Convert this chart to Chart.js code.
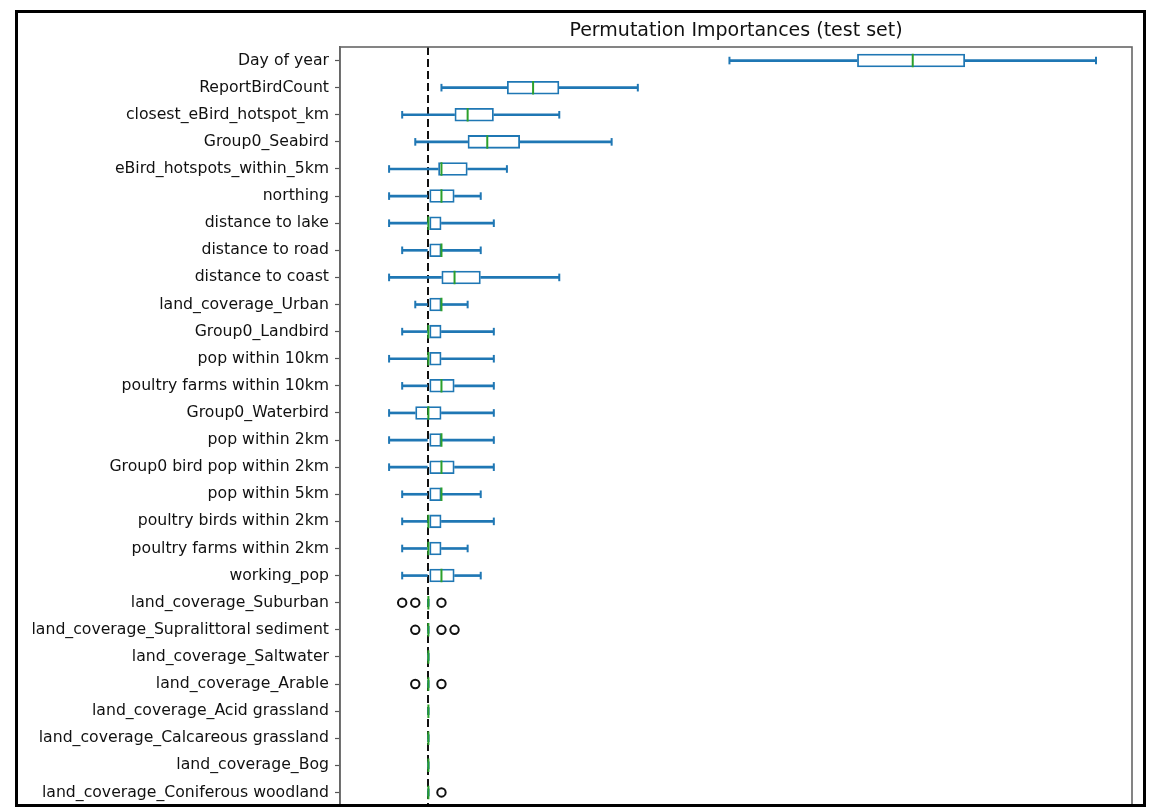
<!DOCTYPE html>
<html>
<head>
<meta charset="utf-8">
<script src="https://cdn.jsdelivr.net/npm/chart.js@4.4.1/dist/chart.umd.min.js"></script>
<style>
  html, body { margin: 0; padding: 0; background: #fff; overflow: hidden; }
  #wrap { position: relative; width: 1152px; height: 807px; }
</style>
</head>
<body>
<div id="wrap"><canvas id="c"></canvas></div>
<script>
// ---- data (permutation importance, arbitrary units; 0 = no effect) ----
const features = [
  "Day of year", "ReportBirdCount", "closest_eBird_hotspot_km", "Group0_Seabird",
  "eBird_hotspots_within_5km", "northing", "distance to lake", "distance to road",
  "distance to coast", "land_coverage_Urban", "Group0_Landbird", "pop within 10km",
  "poultry farms within 10km", "Group0_Waterbird", "pop within 2km",
  "Group0 bird pop within 2km", "pop within 5km", "poultry birds within 2km",
  "poultry farms within 2km", "working_pop", "land_coverage_Suburban",
  "land_coverage_Supralittoral sediment", "land_coverage_Saltwater",
  "land_coverage_Arable", "land_coverage_Acid grassland",
  "land_coverage_Calcareous grassland", "land_coverage_Bog",
  "land_coverage_Coniferous woodland"
];
const whiskerLow  = [23, 1, -2, -1, -3, -3, -3, -2, -3, -1, -2, -3, -2, -3, -3, -3, -2, -2, -2, -2, 0, 0, 0, 0, 0, 0, 0, 0];
const quartile1   = [32.75, 6, 2, 3, 0.75, 0, 0, 0, 1, 0, 0, 0, 0, -1, 0, 0, 0, 0, 0, 0, 0, 0, 0, 0, 0, 0, 0, 0];
const medians     = [37, 8, 3, 4.5, 1, 1, 0, 1, 2, 1, 0, 0, 1, 0, 1, 1, 1, 0, 0, 1, 0, 0, 0, 0, 0, 0, 0, 0];
const quartile3   = [41, 10, 5, 7, 3, 2, 1, 1, 4, 1, 1, 1, 2, 1, 1, 2, 1, 1, 1, 2, 0, 0, 0, 0, 0, 0, 0, 0];
const whiskerHigh = [51, 16, 10, 14, 6, 4, 5, 4, 10, 3, 5, 5, 5, 5, 5, 5, 4, 5, 3, 4, 0, 0, 0, 0, 0, 0, 0, 0];
const outlierFeature = [
  "land_coverage_Suburban", "land_coverage_Suburban", "land_coverage_Suburban",
  "land_coverage_Supralittoral sediment", "land_coverage_Supralittoral sediment", "land_coverage_Supralittoral sediment",
  "land_coverage_Arable", "land_coverage_Arable",
  "land_coverage_Coniferous woodland"
];
const outlierValue = [-2, -1, 1, -1, 1, 2, -1, 1, 1];
const titleText = "Permutation Importances (test set)";
const xMin = -6.75, xMax = 53.75;

// ---- styles ----
const BLUE = "#1f77b4", GREEN = "#2ca02c";
const FONT = "'DejaVu Sans', 'Liberation Sans', sans-serif";

const framePlugin = {
  id: "frame",
  afterDraw(chart) {
    const { ctx, chartArea: a } = chart;
    ctx.save();
    // axes spines (top / right / bottom)
    ctx.strokeStyle = "#666";
    ctx.lineWidth = 1.6;
    ctx.strokeRect(a.left, a.top, a.right - a.left, a.bottom - a.top);
    // title over the plotting area
    ctx.fillStyle = "#111";
    ctx.font = "19px " + FONT;
    ctx.textAlign = "center";
    ctx.textBaseline = "middle";
    ctx.fillText(titleText, (a.left + a.right) / 2, 31);
    // outer picture border
    ctx.strokeStyle = "#000";
    ctx.lineWidth = 3;
    ctx.strokeRect(16.5, 11.5, 1128, 794);
    ctx.restore();
  }
};

const boxData = features.map((f, i) => [quartile1[i], quartile3[i]]);
const lowWhisk = features.map((f, i) => [whiskerLow[i], quartile1[i]]);
const highWhisk = features.map((f, i) => [quartile3[i], whiskerHigh[i]]);
const capData = features.flatMap((f, i) => [{ x: whiskerLow[i], y: f }, { x: whiskerHigh[i], y: f }]);
const medData = features.map((f, i) => ({ x: medians[i], y: f }));
const flierData = outlierFeature.map((f, i) => ({ x: outlierValue[i], y: f }));

new Chart(document.getElementById("c"), {
  type: "bar",
  data: {
    labels: features,
    datasets: [
      { type: "scatter", label: "median", data: medData, pointStyle: "line", rotation: 90,
        pointRadius: 6.75, borderColor: GREEN, borderWidth: 2, backgroundColor: GREEN },
      { type: "scatter", label: "fliers", data: flierData, pointStyle: "circle",
        pointRadius: 4.2, borderColor: "#111", borderWidth: 2, backgroundColor: "rgba(0,0,0,0)" },
      { type: "scatter", label: "caps", data: capData, pointStyle: "line", rotation: 90,
        pointRadius: 3.8, borderColor: BLUE, borderWidth: 2, backgroundColor: BLUE },
      { label: "box", data: boxData, grouped: false, backgroundColor: "rgba(255,255,255,0)",
        borderColor: BLUE, borderWidth: 1.8, borderSkipped: false,
        barPercentage: 0.5, categoryPercentage: 1.0 },
      { label: "whisker low", data: lowWhisk, grouped: false, backgroundColor: BLUE,
        borderWidth: 0, barThickness: 2 },
      { label: "whisker high", data: highWhisk, grouped: false, backgroundColor: BLUE,
        borderWidth: 0, barThickness: 2 }
    ]
  },
  options: {
    indexAxis: "y",
    responsive: true,
    maintainAspectRatio: false,
    animation: false,
    events: [],
    devicePixelRatio: 1,
    layout: { autoPadding: false, padding: { top: 47, left: 15, right: 20, bottom: 1 } },
    plugins: { legend: { display: false }, tooltip: { enabled: false }, title: { display: false } },
    scales: {
      x: {
        type: "linear",
        min: xMin, max: xMax,
        z: 1,
        afterBuildTicks: (s) => { s.ticks = [{ value: 0 }]; },
        afterFit: (s) => { s.height = 0; s.paddingLeft = 0; s.paddingRight = 0; },
        ticks: { display: false },
        grid: { color: "#111", lineWidth: 2, drawTicks: false },
        border: { display: false, dash: [8, 4] }
      },
      y: {
        type: "category",
        offset: true,
        afterFit: (s) => { s.width = 325; s.paddingTop = 0; s.paddingBottom = 0; },
        ticks: { color: "#111", font: { family: FONT, size: 15.7 }, padding: 6, autoSkip: false },
        grid: { offset: false, drawOnChartArea: false, drawTicks: true, tickLength: 5, tickColor: "#555", tickWidth: 1.2 },
        border: { display: true, color: "#666", width: 1.6 }
      }
    }
  },
  plugins: [framePlugin]
});
</script>
</body>
</html>
